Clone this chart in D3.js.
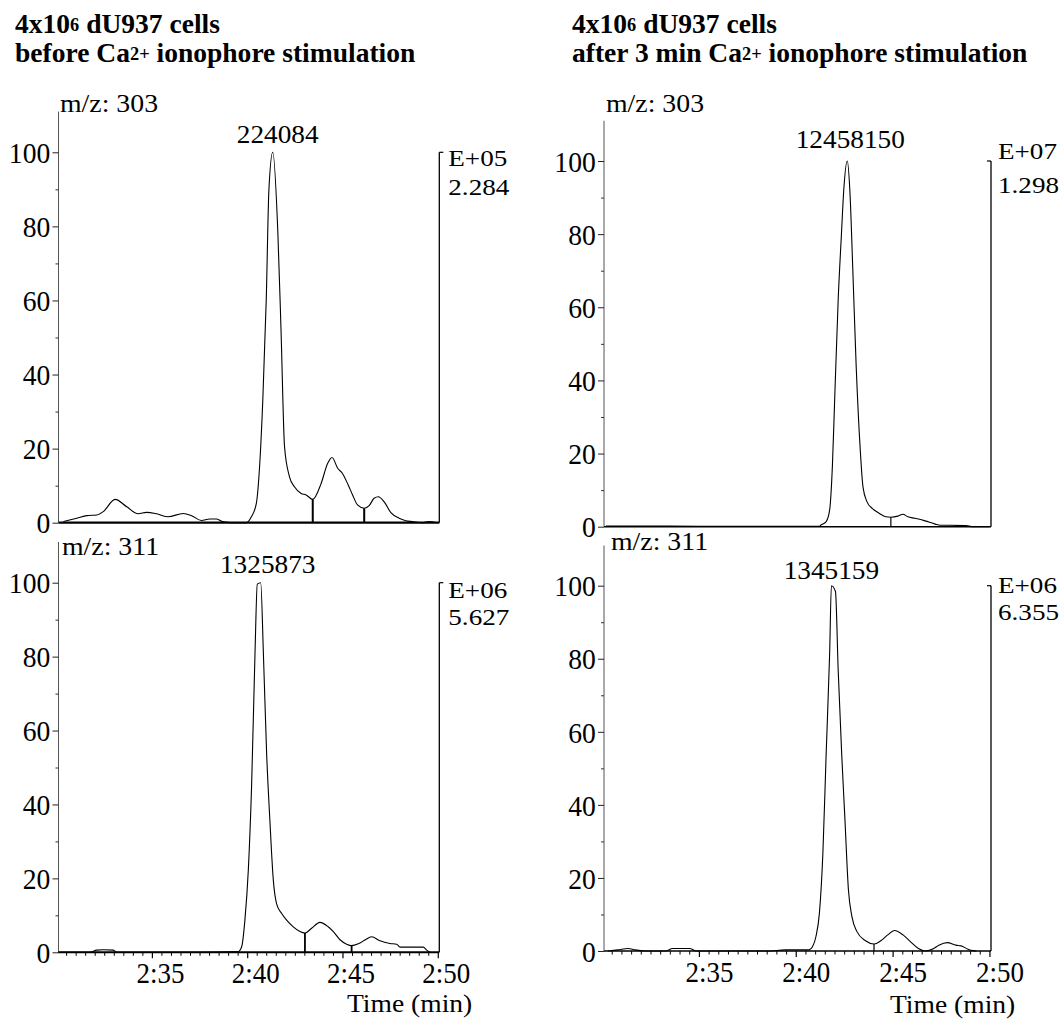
<!DOCTYPE html>
<html><head><meta charset="utf-8">
<script src="https://cdn.jsdelivr.net/npm/d3@7"></script>
<style>
body{margin:0;background:#fff}
svg{display:block}
text{font-family:"Liberation Serif","Times New Roman",serif;fill:#000}
</style>
</head><body>
<svg id="chart" width="1063" height="1021"></svg>
<script>
// ---------------- data ----------------
const xTickValues = [155, 160, 165, 170];
const xTickLabels = ["2:35", "2:40", "2:45", "2:50"];
const yTickValues = [0, 20, 40, 60, 80, 100];
const yTickLabels = ["0", "20", "40", "60", "80", "100"];
const yMinorValues = [10, 30, 50, 70, 90];

const titleLine1 = ["4x10", "6", " dU937 cells"];
const titleLeft2 = ["before Ca", "2+", " ionophore stimulation"];
const titleRight2 = ["after 3 min Ca", "2+", " ionophore stimulation"];

const mzLabels = ["m/z: 303", "m/z: 303", "m/z: 311", "m/z: 311"];
const peakLabels = ["224084", "12458150", "1325873", "1345159"];
const expLabels = ["E+05", "E+07", "E+06", "E+06"];
const maxLabels = ["2.284", "1.298", "5.627", "6.355"];
const axisTitle = "Time (min)";

// m/z 303, before stimulation (time in s after 2:00, relative intensity %)
const timeTL = [150.36,151.06,151.59,152.11,152.45,153.07,153.68,154.28,154.72,155.25,155.85,156.64,157.08,157.6,158.03,158.38,158.7,159.25,159.95,160.22,160.48,160.65,160.82,161.0,161.14,161.34,161.61,161.78,161.96,162.22,162.48,162.83,163.09,163.44,163.88,164.22,164.45,164.75,165.0,165.3,165.53,165.79,166.14,166.4,166.66,166.88,167.19,167.54,167.97,168.32,168.67,169.19,169.54,169.97];
const intTL  = [0.3,1.2,1.9,2.1,3.0,6.3,4.3,2.4,2.8,2.4,1.6,2.5,1.9,0.6,1.0,1.0,0.3,0,0,1.6,5.2,15.1,33.2,60.2,89.9,100,78.2,51.2,20.5,12.4,9.7,7.9,7.5,6.3,10.6,16.0,17.6,14.7,13.3,10.2,7.5,4.8,3.9,4.6,6.6,7.0,5.6,2.7,1.2,0.55,0.3,0,0.3,0];
const dropTimeTL = [163.44, 166.14];
const dropIntTL = [6.3, 3.9];

// m/z 303, after stimulation
const timeTR = [150.2,152.0,155.0,158.0,161.21,161.3,161.57,161.75,161.89,162.01,162.19,162.36,162.48,162.66,162.8,162.94,163.12,163.33,163.47,163.68,163.95,164.3,164.65,164.91,165.27,165.53,165.79,166.15,166.68,167.2,167.47,167.91,168.79,169.14,170.0];
const intTR  = [0.2,0.2,0.1,0.1,0.1,0.46,1.4,4.6,16.4,34.9,62.0,80.2,92.2,100,91.2,71.1,43.8,21.0,10.9,6.8,5.0,3.7,2.7,2.6,2.9,3.4,2.7,2.3,1.6,0.7,0.4,0.4,0.3,0,0];
const dropTimeTR = [164.91];
const dropIntTR = [2.6];

// m/z 311, before stimulation
const timeBL = [150.08,150.52,151.22,151.75,152.1,152.45,152.97,153.15,157.52,159.53,159.71,159.88,160.06,160.23,160.41,160.53,160.71,160.85,161.02,161.19,161.37,161.54,161.81,162.07,162.42,162.77,163.03,163.38,163.82,164.25,164.52,164.87,165.22,165.48,165.83,166.18,166.53,166.97,167.49,167.84,168.02,169.24,169.42,169.59];
const intBL  = [0,0,0,0,0.6,0.7,0.6,0,0,0.2,1.5,8.7,22.3,44.8,80.9,99.6,100,80.9,53.8,35.8,19.6,13.2,10.5,8.7,6.9,5.6,5.2,6.5,8.1,6.9,5.6,3.4,2.2,1.8,2.3,3.3,4.2,3.1,2.4,2.2,1.4,1.4,0.6,0];
const dropTimeBL = [163.03, 165.48];
const dropIntBL = [5.2, 1.8];

// m/z 311, after stimulation
const timeBR = [150.3,150.82,151.35,151.7,152.23,153.29,153.64,154.52,154.87,158.57,159.46,160.69,160.87,161.04,161.22,161.4,161.57,161.75,161.84,162.05,162.19,162.37,162.54,162.72,162.9,163.16,163.6,164.04,164.39,164.75,165.1,165.54,165.89,166.33,166.69,167.13,167.39,167.83,168.27,168.54,168.89,169.15,169.33];
const intBR  = [0,0.3,0.7,0.3,0,0,0.7,0.7,0,0,0.3,0.3,1.2,3.9,10.3,26.7,54.1,81.5,100,98.4,77.0,54.1,35.9,16.7,9.4,5.3,2.8,1.9,2.8,4.4,5.6,4.4,2.7,0.7,0,0.7,1.6,2.3,1.6,1.4,0.5,0.1,0];
const dropTimeBR = [164.04];
const dropIntBR = [1.9];

// ---------------- layout ----------------
const svg = d3.select("#chart");
const xDomain = [150.1, 170.08];

const panels = [
  {time: timeTL, val: intTL, dT: dropTimeTL, dV: dropIntTL,
   x0: 58.5, x1: 439.3, yZero: 522.7, yHundred: 152.3, bottomAxis: false, baseW: 2.2, dropW: 2,
   mzX: 60, mzY: 112, peakDx: 5, peakDy: -9, expDy: 14, maxDy: 43, expDx: 9, capDir: 1},
  {time: timeTR, val: intTR, dT: dropTimeTR, dV: dropIntTR,
   x0: 604, x1: 991, yZero: 526.7, yHundred: 161, bottomAxis: false, baseW: 1.6, dropW: 1.2,
   mzX: 606, mzY: 112, peakDx: 3, peakDy: -12.7, expDy: -2, maxDy: 32, expDx: 7, capDir: -1},
  {time: timeBL, val: intBL, dT: dropTimeBL, dV: dropIntBL,
   x0: 58.5, x1: 439.3, yZero: 952.3, yHundred: 582.7, bottomAxis: true, baseW: 2, dropW: 1.8,
   mzX: 62, mzY: 555, peakDx: 7, peakDy: -9.7, expDy: 15, maxDy: 42, expDx: 9, capDir: 1},
  {time: timeBR, val: intBR, dT: dropTimeBR, dV: dropIntBR,
   x0: 604, x1: 991, yZero: 951, yHundred: 585.7, bottomAxis: true, baseW: 1.6, dropW: 1.2,
   mzX: 611, mzY: 550, peakDx: 0, peakDy: -6.4, expDy: 7, maxDy: 34, expDx: 7, capDir: -1}
];

function txt(g, x, y, s, size, sx, anchor, weight) {
  return g.append("text")
    .attr("transform", `translate(${x},${y}) scale(${sx},1)`)
    .attr("font-size", size)
    .attr("text-anchor", anchor || "start")
    .attr("font-weight", weight || "normal")
    .text(s);
}

function richTitle(x, y, parts) {
  const t = svg.append("text")
    .attr("transform", `translate(${x},${y}) scale(1.02,1)`)
    .attr("font-size", 27).attr("font-weight", "bold");
  t.append("tspan").text(parts[0]);
  t.append("tspan").attr("font-size", 18).attr("dy", -2).text(parts[1]);
  t.append("tspan").attr("dy", 2).text(parts[2]);
}

// titles
richTitle(15, 33, titleLine1);
richTitle(15, 62, titleLeft2);
richTitle(572, 33, titleLine1);
richTitle(572, 62, titleRight2);

panels.forEach((p, i) => {
  const g = svg.append("g");
  const x = d3.scaleLinear().domain(xDomain).range([p.x0, p.x1]);
  const y = d3.scaleLinear().domain([0, 100]).range([p.yZero, p.yHundred]);

  // left axis line
  g.append("line").attr("x1", p.x0).attr("x2", p.x0)
    .attr("y1", y(0)).attr("y2", y(111))
    .attr("stroke", "#555").attr("stroke-width", 1);

  // y ticks (major with labels)
  const yAxis = d3.axisLeft(y).tickValues(yTickValues)
    .tickFormat((d, k) => yTickLabels[k]).tickSize(6).tickPadding(3);
  const ya = g.append("g").attr("transform", `translate(${p.x0},0)`).call(yAxis);
  ya.select(".domain").remove();
  ya.attr("font-family", null);
  ya.selectAll("line").attr("stroke", "#222");
  ya.selectAll("text")
    .attr("font-family", "Liberation Serif, serif")
    .attr("font-size", 30).attr("fill", "#000")
    .attr("dy", "0.34em")
    .attr("transform", "scale(0.92,1)");
  const yMinor = d3.axisLeft(y).tickValues(yMinorValues).tickFormat("").tickSize(3);
  const ym = g.append("g").attr("transform", `translate(${p.x0},0)`).call(yMinor);
  ym.select(".domain").remove();
  ym.selectAll("line").attr("stroke", "#333");

  // right axis (scale bracket)
  g.append("line").attr("x1", p.x1).attr("x2", p.x1)
    .attr("y1", y(0)).attr("y2", y(100))
    .attr("stroke", "#000").attr("stroke-width", 1.3);
  g.append("line").attr("x1", p.x1).attr("x2", p.x1 + 4 * p.capDir)
    .attr("y1", y(100)).attr("y2", y(100))
    .attr("stroke", "#000").attr("stroke-width", 1.2);
  txt(g, p.x1 + p.expDx, y(100) + p.expDy, expLabels[i], 24, 1.13);
  txt(g, p.x1 + p.expDx, y(100) + p.maxDy, maxLabels[i], 24, 1.13);

  // baseline / x axis
  g.append("line").attr("x1", p.x0).attr("x2", p.x1)
    .attr("y1", y(0)).attr("y2", y(0))
    .attr("stroke", "#000").attr("stroke-width", p.baseW);

  if (p.bottomAxis) {
    const minorVals = d3.range(150.5, 170.01, 0.5).filter(v => xTickValues.indexOf(v) < 0);
    const xm = g.append("g").attr("transform", `translate(0,${y(0)})`)
      .call(d3.axisBottom(x).tickValues(minorVals).tickFormat("").tickSize(3.5));
    xm.select(".domain").remove();
    xm.selectAll("line").attr("stroke", "#000");
    const xa = g.append("g").attr("transform", `translate(0,${y(0)})`)
      .call(d3.axisBottom(x).tickValues(xTickValues)
        .tickFormat((d, k) => xTickLabels[k]).tickSize(6));
    xa.select(".domain").remove();
    xa.attr("font-family", null);
    xa.selectAll("line").attr("stroke", "#000").attr("stroke-width", 1.2);
    xa.selectAll("text")
      .attr("font-family", "Liberation Serif, serif")
      .attr("font-size", 29).attr("fill", "#000")
      .attr("y", 31).attr("dy", 0)
      .attr("transform", `translate(${i === 3 ? 10 : 8},0) scale(0.93,1)`);
    txt(g, i === 3 ? 890 : 347, i === 3 ? 1013 : 1012, axisTitle, 26, 1.06);
  }

  // trace
  const line = d3.line()
    .x((d, k) => x(p.time[k]))
    .y((d, k) => y(p.val[k]))
    .curve(d3.curveMonotoneX);
  g.append("path").datum(p.val).attr("d", line)
    .attr("fill", "none").attr("stroke", "#000").attr("stroke-width", 1.1)
    .attr("stroke-linejoin", "round");

  // peak separation drops
  p.dT.forEach((t, k) => {
    g.append("line").attr("x1", x(t)).attr("x2", x(t))
      .attr("y1", y(0)).attr("y2", y(p.dV[k]))
      .attr("stroke", "#000").attr("stroke-width", p.dropW);
  });

  // labels
  txt(g, p.mzX, p.mzY, mzLabels[i], 26, 1.07);
  const pk = d3.maxIndex(p.val);
  txt(g, x(p.time[pk]) + p.peakDx, y(100) + p.peakDy, peakLabels[i], 26, 1.05, "middle");
});
</script>
</body></html>
